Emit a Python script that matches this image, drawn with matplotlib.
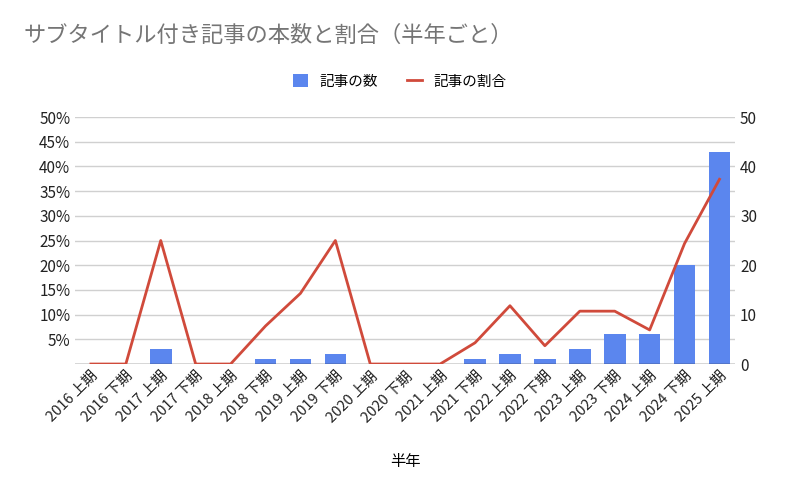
import matplotlib
matplotlib.use("Agg")
import matplotlib.pyplot as plt

plt.rcParams['font.family'] = ['Noto Sans CJK JP', 'DejaVu Sans']

categories = ["2016 上期","2016 下期","2017 上期","2017 下期","2018 上期","2018 下期","2019 上期","2019 下期",
              "2020 上期","2020 下期","2021 上期","2021 下期","2022 上期","2022 下期","2023 上期","2023 下期",
              "2024 上期","2024 下期","2025 上期"]
counts = [0,0,3,0,0,1,1,2,0,0,0,1,2,1,3,6,6,20,43]
ratios = [0,0,25,0,0,7.7,14.3,25,0,0,0,4.3,11.8,3.7,10.7,10.7,6.9,24.4,37.4]

fig = plt.figure(figsize=(8,4.95), dpi=100)
ax = fig.add_axes([0.094, 0.2646, 0.825, 0.499])
ax2 = ax.twinx()
x = list(range(len(categories)))
ax2.bar(x, counts, width=0.62, color='#5b86ee', zorder=2, label='記事の数')
ax.plot(x, ratios, color='#d04a3b', lw=2, zorder=3, label='記事の割合')
ax.set_zorder(ax2.get_zorder()+1); ax.patch.set_visible(False)
ax.set_ylim(0,50); ax2.set_ylim(0,50)
ax.set_xlim(-0.45, len(x)-0.55)
ax.set_yticks(range(5,55,5)); ax.set_yticklabels([f"{v}%" for v in range(5,55,5)])
ax2.set_yticks(range(0,60,10))
for a in (ax, ax2):
    for s in a.spines.values(): s.set_visible(False)
    a.tick_params(length=0, labelsize=11, colors='#222222')
for v in range(5,55,5):
    ax2.axhline(v, color='#d0d0d0', lw=1, zorder=0)
ax2.axhline(0, color='#333333', lw=1, zorder=4)
ax.set_xticks(x); ax.set_xticklabels(categories, rotation=45, ha='right', rotation_mode='anchor', fontsize=10.5)
ax.set_xlabel('半年', fontsize=11, labelpad=20)
fig.text(0.03, 0.915, 'サブタイトル付き記事の本数と割合（半年ごと）', fontsize=16, color='#757575')
h1,l1 = ax2.get_legend_handles_labels(); h2,l2 = ax.get_legend_handles_labels()
fig.legend(h1+h2, l1+l2, loc='center', bbox_to_anchor=(0.5,0.835), ncol=2, frameon=False, fontsize=10.5,
           handlelength=1.0, handleheight=1.0, columnspacing=2)
fig.savefig('out.png', dpi=100)
